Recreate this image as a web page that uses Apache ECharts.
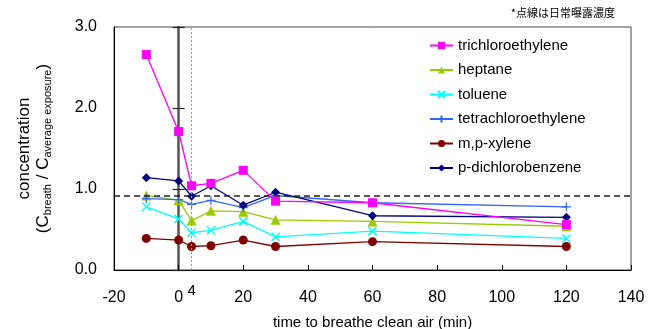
<!DOCTYPE html>
<html>
<head>
<meta charset="utf-8">
<script src="https://cdn.jsdelivr.net/npm/echarts@6/dist/echarts.min.js"></script>
<style>
  html, body { margin: 0; padding: 0; background: #fff; }
  #chart { width: 650px; height: 329px; }
</style>
</head>
<body>
<div id="chart"></div>
<script>
// time (min) after starting to breathe clean air
const times = [-10, 0, 4, 10, 20, 30, 60, 120];

// C_breath / C_average exposure
const trichloroethylene = [2.66, 1.71, 1.04, 1.07, 1.23, 0.85, 0.83, 0.56];
const heptane = [0.92, 0.86, 0.61, 0.73, 0.72, 0.62, 0.60, 0.54];
const toluene = [0.78, 0.63, 0.46, 0.49, 0.60, 0.41, 0.48, 0.39];
const tetrachloroethylene = [0.88, 0.87, 0.81, 0.86, 0.77, 0.92, 0.83, 0.78];
const mpXylene = [0.39, 0.37, 0.29, 0.30, 0.37, 0.29, 0.35, 0.29];
const pDichlorobenzene = [1.14, 1.10, 0.91, 1.04, 0.80, 0.96, 0.67, 0.65];

// daily exposure level (dotted line) and the 4 min marker
const dailyLevel = 0.92;
const markTime = 4;

const FONT = "'Liberation Sans', Arial, sans-serif";

const crossX = 'path://M0,0L10,10M10,0L0,10';
const plus = 'path://M5,0L5,10M0,5L10,5';

const pairs = (vals) => times.map((t, i) => [t, vals[i]]);

function lineSeries(name, vals, color, symbol, size, extra) {
  return Object.assign({
    name: name,
    type: 'line',
    data: pairs(vals),
    symbol: symbol,
    symbolSize: size,
    showAllSymbol: true,
    lineStyle: {color: color, width: 1.3},
    itemStyle: {color: color, borderColor: color, borderWidth: 0},
    emphasis: {disabled: true},
    animation: false
  }, extra || {});
}

const chart = echarts.init(document.getElementById('chart'));
chart.setOption({
  animation: false,
  textStyle: {fontFamily: FONT},
  grid: {
    left: 114, right: 19, top: 27, bottom: 59,
    outerBoundsMode: 'none',
    show: true, borderColor: '#444', borderWidth: 1
  },
  legend: {
    orient: 'vertical',
    left: 424, top: 33,
    itemWidth: 23, itemHeight: 9, itemGap: 9.5,
    textStyle: {fontSize: 15, color: '#000', fontFamily: FONT},
    data: ['trichloroethylene', 'heptane', 'toluene', 'tetrachloroethylene', 'm,p-xylene', 'p-dichlorobenzene']
  },
  graphic: [{
    type: 'text', right: 35, top: 7,
    style: {text: '*点線は日常曝露濃度', fontSize: 11, fill: '#000', fontFamily: "'Noto Sans CJK JP', sans-serif"}
  }],
  xAxis: {
    type: 'value', min: -20, max: 140, interval: 20,
    name: 'time to breathe clean air (min)',
    nameLocation: 'middle', nameGap: 45,
    nameTextStyle: {fontSize: 15, color: '#000'},
    axisLine: {onZero: false, lineStyle: {color: '#000', width: 1}},
    axisTick: {inside: true, length: 5, lineStyle: {color: '#000'}},
    axisLabel: {fontSize: 16, color: '#000', margin: 20},
    splitLine: {show: false}
  },
  yAxis: [{
    type: 'value', min: 0, max: 3, interval: 1, position: 'left',
    name: '{a|concentration}\n{p|(C}{s|breath}{p| / C}{s|average exposure}{p|)}',
    nameLocation: 'middle', nameRotate: 90, nameGap: 61,
    nameTextStyle: {
      color: '#000',
      rich: {
        a: {fontSize: 17, lineHeight: 19, fontFamily: FONT, color: '#000'},
        p: {fontSize: 17, lineHeight: 19, fontFamily: FONT, color: '#000'},
        s: {fontSize: 11, verticalAlign: 'bottom', fontFamily: FONT, color: '#000'}
      }
    },
    axisLine: {show: true, onZero: false, lineStyle: {color: '#000'}},
    axisTick: {show: false},
    axisLabel: {fontSize: 16, color: '#000', margin: 17, formatter: (v) => v.toFixed(1)},
    splitLine: {show: false}
  }, {
    // y axis crossing at time 0, ticks to the left
    type: 'value', min: 0, max: 3, interval: 1, position: 'left',
    axisLine: {show: true, onZero: true, onZeroAxisIndex: 0, lineStyle: {color: '#555', width: 2.5}},
    axisTick: {show: true, length: 6, lineStyle: {color: '#222', width: 1.2}},
    axisLabel: {show: false},
    splitLine: {show: false}
  }, {
    // same axis, ticks to the right
    type: 'value', min: 0, max: 3, interval: 1, position: 'left',
    axisLine: {show: false, onZero: true, onZeroAxisIndex: 0},
    axisTick: {show: true, inside: true, length: 6, lineStyle: {color: '#222', width: 1.2}},
    axisLabel: {show: false},
    splitLine: {show: false}
  }],
  series: [
    lineSeries('trichloroethylene', trichloroethylene, '#ff00ff', 'rect', 9, {
      z: 5,
      markLine: {
        silent: true, symbol: 'none', animation: false,
        data: [
          {yAxis: dailyLevel, lineStyle: {color: '#222', type: [6, 4], width: 1.5}, label: {show: false}},
          {xAxis: markTime, lineStyle: {color: '#999', type: [2, 2], width: 1},
            label: {show: true, position: 'start', formatter: String(markTime), fontSize: 15, color: '#000', distance: 13}}
        ]
      }
    }),
    lineSeries('heptane', heptane, '#99cc00', 'triangle', 10),
    lineSeries('toluene', toluene, '#00ffff', crossX, 8, {itemStyle: {color: '#00ffff', borderColor: '#00ffff', borderWidth: 1.5}}),
    lineSeries('tetrachloroethylene', tetrachloroethylene, '#3366ff', plus, 9, {itemStyle: {color: '#3366ff', borderColor: '#3366ff', borderWidth: 1.2}}),
    lineSeries('m,p-xylene', mpXylene, '#800000', 'circle', 9),
    lineSeries('p-dichlorobenzene', pDichlorobenzene, '#000080', 'diamond', 9, {z: 4})
  ]
});
</script>
</body>
</html>
